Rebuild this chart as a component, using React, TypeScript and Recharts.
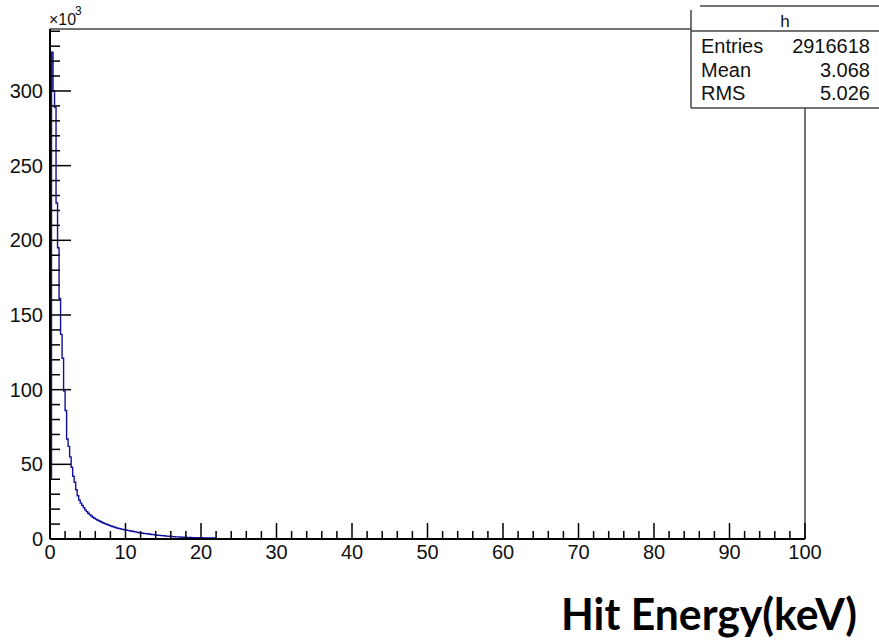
import React from 'react';
import { LineChart, Line, XAxis, YAxis, ReferenceLine } from 'recharts';

// Histogram "h": Hit Energy (keV), bin width 0.2 keV, counts in units of 10^3
const BIN_WIDTH = 0.2;
const binCounts = [
  41, 326, 300, 289, 225, 195, 161, 137, 121, 99,
  86, 67, 62, 55, 48, 42, 38, 33, 29, 26,
  24, 22.5, 21, 19.5, 18.3, 17.2, 16.3, 15.4, 14.6, 13.9,
  13.3, 12.7, 12.2, 11.7, 11.2, 10.7, 10.3, 9.9, 9.5, 9.1,
  8.7, 8.4, 8.0, 7.7, 7.4, 7.1, 6.9, 6.6, 6.4, 6.2,
  6.0, 5.8, 5.6, 5.4, 5.2, 5.0, 4.8, 4.6, 4.4, 4.2,
  4.0, 3.9, 3.7, 3.6, 3.5, 3.3, 3.2, 3.0, 2.9, 2.8,
  2.6, 2.5, 2.4, 2.35, 2.25, 2.15, 2.05, 1.95, 1.85, 1.75,
  1.65, 1.6, 1.5, 1.45, 1.4, 1.35, 1.3, 1.25, 1.2, 1.15,
  1.1, 1.05, 1.0, 0.97, 0.94, 0.91, 0.88, 0.86, 0.84, 0.82,
  0.8, 0.77, 0.75, 0.72, 0.7, 0.68, 0.66, 0.64, 0.62, 0.6,
];
const X_MIN = 0;
const X_MAX = 100;
const Y_MAX = 341.5;
const xMajorTicks = [0, 10, 20, 30, 40, 50, 60, 70, 80, 90, 100];
const xMinorStep = 2;
const yMajorTicks = [0, 50, 100, 150, 200, 250, 300];
const yMinorStep = 10;

const statsTitle = 'h';
const statsLabels = ['Entries', 'Mean', 'RMS'];
const statsValues = ['2916618', '3.068', '5.026'];
const xTitle = 'Hit Energy(keV)';

const histData = [
  ...binCounts.map((c, i) => ({ e: Math.round(i * BIN_WIDTH * 10) / 10, n: c })),
  { e: Math.round(binCounts.length * BIN_WIDTH * 10) / 10, n: 0 },
];

const xTicks = Array.from({ length: (X_MAX - X_MIN) / xMinorStep + 1 }, (_, i) => X_MIN + i * xMinorStep);
const yTicks = Array.from({ length: Math.floor(Y_MAX / yMinorStep) + 1 }, (_, i) => i * yMinorStep);

const FONT = '"Liberation Sans", Arial, Helvetica, sans-serif';

const XTick = (props: any) => {
  const { x, y, payload } = props;
  const v = payload.value;
  const major = xMajorTicks.includes(v);
  return (
    <g>
      <line x1={x} x2={x} y1={y} y2={y - (major ? 16 : 8)} stroke="#000" strokeWidth={1.5} />
      {major && (
        <text x={x} y={y + 20} textAnchor="middle" fontSize={20} fontFamily={FONT} fill="#111">
          {v}
        </text>
      )}
    </g>
  );
};

const YTick = (props: any) => {
  const { x, y, payload } = props;
  const v = payload.value;
  const major = yMajorTicks.includes(v);
  return (
    <g>
      <line x1={x} x2={x + (major ? 21 : 10)} y1={y} y2={y} stroke="#000" strokeWidth={1.5} />
      {major && (
        <text x={x - 7} y={y + 7} textAnchor="end" fontSize={20} fontFamily={FONT} fill="#111">
          {v}
        </text>
      )}
    </g>
  );
};

export default function App() {
  return (
    <div style={{ position: 'absolute', left: 0, top: 0, width: 879, height: 644, background: '#fff' }}>
      <LineChart width={879} height={644} data={histData} margin={{ top: 29, right: 74, bottom: 0, left: 0 }}>
        <XAxis
          dataKey="e"
          type="number"
          domain={[X_MIN, X_MAX]}
          allowDataOverflow
          ticks={xTicks}
          interval={0}
          tick={<XTick />}
          tickLine={false}
          tickSize={0}
          tickMargin={0}
          height={105}
          axisLine={{ stroke: '#000', strokeWidth: 2 }}
        />
        <YAxis
          type="number"
          domain={[0, Y_MAX]}
          allowDataOverflow
          ticks={yTicks}
          interval={0}
          tick={<YTick />}
          tickLine={false}
          tickSize={0}
          tickMargin={0}
          width={50}
          axisLine={{ stroke: '#000', strokeWidth: 2 }}
        />
        <ReferenceLine y={Y_MAX} stroke="#444" strokeWidth={1.5} />
        <ReferenceLine x={X_MAX} stroke="#444" strokeWidth={1.5} />
        <Line
          type="stepAfter"
          dataKey="n"
          stroke="#10109c"
          strokeWidth={1.4}
          dot={false}
          activeDot={false}
          isAnimationActive={false}
        />
      </LineChart>
      <svg
        width={879}
        height={644}
        style={{ position: 'absolute', left: 0, top: 0, pointerEvents: 'none' }}
      >
        {/* exponent label */}
        <text x={49} y={25} fontSize={16} fontFamily={FONT} fill="#111">
          ×10
        </text>
        <text x={75} y={15} fontSize={12} fontFamily={FONT} fill="#111">
          3
        </text>
        {/* stats box */}
        <rect x={691} y={6} width={200} height={102} fill="#fff" />
        <line x1={700} x2={879} y1={6} y2={6} stroke="#444" strokeWidth={1.5} />
        <line x1={691} x2={691} y1={10} y2={108} stroke="#444" strokeWidth={1.5} />
        <line x1={691} x2={879} y1={31} y2={31} stroke="#444" strokeWidth={1.5} />
        <line x1={691} x2={879} y1={108} y2={108} stroke="#444" strokeWidth={1.5} />
        <text x={785} y={27} textAnchor="middle" fontSize={17} fontFamily={FONT} fill="#111">
          {statsTitle}
        </text>
        {statsLabels.map((l, i) => (
          <text key={l} x={701} y={53 + i * 23.5} fontSize={20} fontFamily={FONT} fill="#111">
            {l}
          </text>
        ))}
        {statsValues.map((v, i) => (
          <text key={v} x={870} y={53 + i * 23.5} textAnchor="end" fontSize={20} fontFamily={FONT} fill="#111">
            {v}
          </text>
        ))}
        {/* axis title */}
        <text
          x={561}
          y={630}
          fontSize={44}
          fontWeight="bold"
          fontFamily="Lato, 'Open Sans', sans-serif"
          fill="#000"
          textLength={296}
          lengthAdjust="spacingAndGlyphs"
        >
          {xTitle}
        </text>
      </svg>
    </div>
  );
}
